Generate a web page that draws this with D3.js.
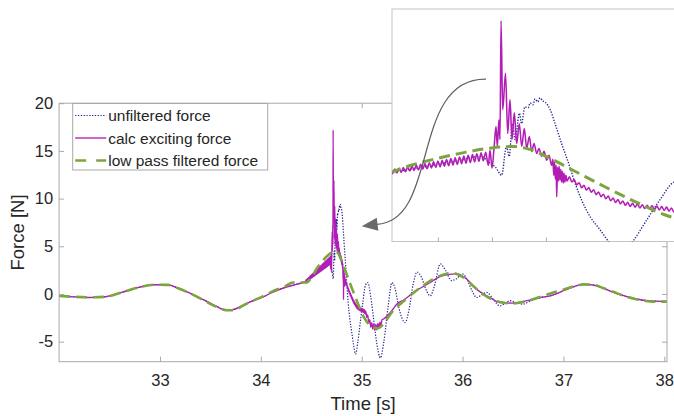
<!DOCTYPE html>
<html>
<head>
<meta charset="utf-8">
<script src="https://cdn.jsdelivr.net/npm/d3@7"></script>
<style>
  html, body { margin: 0; padding: 0; background: #ffffff; }
  svg { display: block; font-family: "Liberation Sans", Arial, Helvetica, sans-serif; }
</style>
</head>
<body>
<svg id="chart" width="674" height="416"></svg>
<script>
// ---- data: [time in s, force in N] ----
const unfilteredForce = [
  [32.0,-0.2],[32.15,-0.3],[32.3,-0.37],[32.45,-0.3],[32.62,0.16],[32.79,0.7],[32.95,0.97],[33.08,0.95],
  [33.18,0.6],[33.28,0.16],[33.37,-0.3],[33.45,-0.7],[33.55,-1.25],[33.66,-1.7],[33.74,-1.6],[33.81,-1.24],
  [33.9,-0.8],[34.01,-0.37],[34.12,0.2],[34.24,0.68],[34.35,1.0],[34.44,1.3],[34.515,1.9],[34.56,2.3],
  [34.6,2.7],[34.64,3.1],[34.68,3.5],[34.6965,2.8],[34.706,2.45],[34.718,1.6],[34.727,4.5],[34.732,3.5],
  [34.738,6.8],[34.743,5.2],[34.751,7.85],[34.755,6.8],[34.761,8.5],[34.767,8.4],[34.771,8.9],[34.776,8.7],
  [34.780,9.3],[34.785,9.0],[34.789,9.4],[34.794,9.1],[34.798,9.0],[34.808,8.2],[34.817,6.8],[34.829,4.8],
  [34.842,2.8],[34.854,0.8],[34.866,-0.9],[34.882,-2.6],[34.900,-3.9],[34.919,-5.3],[34.94,-6.3],[34.962,-5.0],
  [34.987,-2.9],[35.011,-0.9],[35.037,0.9],[35.06,1.2],[35.09,-0.3],[35.12,-2.8],[35.15,-5.2],[35.185,-6.7],
  [35.22,-5.0],[35.26,-1.5],[35.3,1.2],[35.33,0.6],[35.37,-1.5],[35.43,-3.0],[35.47,-1.6],[35.51,1.0],
  [35.55,2.3],[35.59,1.8],[35.64,0.4],[35.68,-0.2],[35.72,0.8],[35.78,3.15],[35.83,2.5],[35.89,1.4],
  [35.94,1.6],[36.0,2.1],[36.05,1.4],[36.1,0.2],[36.14,-0.37],[36.19,-0.1],[36.24,0.16],[36.3,-0.5],
  [36.37,-1.24],[36.42,-1.0],[36.47,-0.7],[36.53,-0.9],[36.6,-1.06],[36.67,-0.75],[36.75,-0.45],[36.87,-0.19],
  [37.0,0.34],[37.1,0.75],[37.2,1.04],[37.33,0.86],[37.5,0.16],[37.66,-0.37],[37.83,-0.7],[38.03,-0.79]
];

const excitingForce = [
  [32.0,-0.2],[32.15,-0.3],[32.3,-0.37],[32.45,-0.3],[32.62,0.16],[32.79,0.7],[32.95,0.97],[33.08,0.95],
  [33.18,0.6],[33.28,0.16],[33.37,-0.3],[33.45,-0.7],[33.55,-1.25],[33.66,-1.7],[33.74,-1.6],[33.81,-1.24],
  [33.9,-0.8],[34.01,-0.37],[34.12,0.2],[34.24,0.68],[34.35,1.0],[34.40,1.15],[34.444,1.32],
  // ripple ahead of the impact
  [34.448,1.47],[34.452,1.26],[34.456,1.55],[34.460,1.32],[34.464,1.63],[34.468,1.39],[34.472,1.72],[34.476,1.45],
  [34.480,1.80],[34.484,1.51],[34.488,1.88],[34.492,1.57],[34.496,1.96],[34.500,1.63],[34.504,2.04],[34.508,1.70],
  [34.512,2.13],[34.516,1.76],[34.520,2.21],[34.524,1.82],[34.528,2.29],[34.532,1.88],[34.536,2.37],[34.540,1.94],
  [34.544,2.45],[34.548,2.01],[34.552,2.54],[34.556,2.07],[34.560,2.62],[34.564,2.13],[34.568,2.70],[34.572,2.19],
  [34.576,2.78],[34.580,2.25],[34.584,2.86],[34.588,2.32],[34.592,2.95],[34.596,2.38],[34.600,3.03],[34.604,2.44],
  [34.608,3.11],[34.612,2.50],[34.616,3.19],[34.620,2.56],[34.624,3.27],[34.628,2.63],[34.632,3.36],[34.636,2.69],
  [34.640,3.44],[34.644,2.75],[34.648,3.52],[34.652,2.81],[34.656,3.60],[34.660,2.87],[34.664,3.68],[34.668,2.94],
  [34.672,3.77],[34.676,3.00],[34.680,3.85],[34.684,3.06],
  // impact
  [34.6885,3.9],[34.6933,2.6],[34.6965,4.1],[34.7002,2.3],[34.7039,4.3],[34.7076,6.5],[34.7100,4.5],[34.7131,7.2],
  [34.7150,5.2],[34.7169,17.2],[34.7200,8.2],[34.7252,11.9],[34.7293,5.8],[34.7335,9.2],[34.7372,5.2],[34.7415,7.9],
  [34.7459,4.8],[34.7507,6.8],[34.7552,4.5],[34.7600,6.3],[34.7644,4.3],[34.7693,5.5],[34.7737,4.0],[34.7780,4.8],
  [34.7829,3.8],[34.7872,4.3],[34.7922,3.5],[34.7965,4.0],[34.8015,3.1],[34.8057,3.6],[34.8107,2.6],
  [34.8130,3.2],[34.8145,1.6],[34.8160,2.9],[34.8175,1.2],[34.8190,2.6],[34.8200,-0.6],[34.8215,2.4],[34.8230,1.0],
  [34.8245,2.5],[34.8260,1.1],[34.8275,2.2],[34.8290,0.9],[34.8305,2.0],[34.8320,0.8],[34.8335,1.8],[34.8350,0.9],
  [34.8370,1.6],[34.8390,1.0],
  // ripple after the impact
  [34.8435,1.43],[34.8480,0.92],[34.8525,1.13],[34.8570,0.62],[34.8615,0.83],[34.8660,0.34],[34.8705,0.58],[34.8750,0.10],
  [34.8795,0.34],[34.8840,-0.13],[34.8885,0.12],[34.8930,-0.35],[34.8975,-0.10],[34.9020,-0.57],[34.9065,-0.32],[34.9110,-0.78],
  [34.9155,-0.52],[34.9200,-0.98],[34.9245,-0.71],[34.9290,-1.15],[34.9335,-0.87],[34.9380,-1.30],[34.9425,-1.01],[34.9470,-1.44],
  [34.9515,-1.14],[34.9560,-1.56],[34.9605,-1.24],[34.9650,-1.64],[34.9695,-1.32],[34.9740,-1.71],[34.9785,-1.38],[34.9830,-1.77],
  [34.9875,-1.43],[34.9920,-1.82],[34.9965,-1.48],[35.0010,-1.86],[35.0055,-1.53],[35.0100,-1.91],[35.0145,-1.57],[35.0190,-1.96],
  [35.0235,-1.63],[35.0280,-2.03],[35.0325,-1.71],[35.0370,-2.12],[35.0415,-1.82],
  [35.05,-2.45],[35.06,-2.2],[35.07,-3.05],[35.08,-2.7],[35.09,-3.5],[35.10,-3.0],[35.11,-3.7],[35.12,-3.15],
  [35.13,-3.8],[35.14,-3.2],[35.15,-3.75],[35.16,-3.1],[35.17,-3.6],[35.18,-2.95],[35.19,-3.35],[35.20,-2.75],
  [35.22,-2.6],[35.25,-2.3],[35.28,-2.0],[35.31,-1.6],[35.35,-1.06],[35.42,-0.6],[35.46,-0.3],[35.51,0.16],
  [35.58,0.6],[35.68,1.2],[35.76,1.75],[35.84,2.0],[35.94,2.1],[36.04,1.57],[36.14,0.5],[36.27,-0.37],
  [36.37,-0.9],[36.5,-0.96],[36.64,-0.7],[36.77,-0.37],[36.87,-0.19],[37.0,0.34],[37.1,0.75],[37.2,1.04],
  [37.33,0.86],[37.5,0.16],[37.66,-0.37],[37.83,-0.7],[38.03,-0.79]
];

const lowPassForce = [
  [32.0,-0.2],[32.15,-0.3],[32.3,-0.35],[32.45,-0.3],[32.62,0.16],[32.79,0.7],[32.95,0.97],[33.08,0.95],
  [33.18,0.6],[33.28,0.16],[33.37,-0.3],[33.45,-0.75],[33.55,-1.3],[33.66,-1.7],[33.74,-1.7],[33.81,-1.3],
  [33.9,-0.8],[34.01,-0.3],[34.12,0.3],[34.24,0.8],[34.32,1.2],[34.4,1.2],[34.45,1.2],[34.5,1.7],
  [34.55,2.6],[34.6,3.3],[34.65,3.9],[34.7,4.35],[34.74,4.5],[34.77,4.2],[34.8,3.5],[34.85,2.1],
  [34.91,0.4],[34.97,-1.2],[35.02,-2.4],[35.1,-3.4],[35.16,-3.6],[35.22,-3.1],[35.3,-1.9],[35.4,-0.9],
  [35.5,0.0],[35.6,0.8],[35.7,1.5],[35.8,2.0],[35.9,2.2],[36.0,1.8],[36.1,0.9],[36.2,0.0],
  [36.3,-0.6],[36.4,-0.9],[36.5,-1.0],[36.6,-0.85],[36.7,-0.55],[36.8,-0.2],[36.9,0.15],[37.0,0.45],
  [37.1,0.8],[37.2,1.0],[37.3,0.95],[37.4,0.6],[37.5,0.2],[37.6,-0.2],[37.7,-0.5],[37.8,-0.7],
  [37.9,-0.8],[38.03,-0.8]
];

const seriesNames = ["unfiltered force", "calc exciting force", "low pass filtered force"];
const timeTicks = [33, 34, 35, 36, 37, 38];
const forceTicks = [-5, 0, 5, 10, 15, 20];
const insetTimeTicks = [34.6, 34.7, 34.8];
const timeDomain = [32, 38.027];
const forceDomain = [-7.1, 20];
const insetTimeDomain = [34.515, 35.0372];
const insetForceDomain = [-5.1, 18.38];

// ---- layout ----
const svg = d3.select("#chart");
const W = 674, H = 416;
const plot = { left: 59.1, right: 667, top: 103.2, bottom: 361.7 };
const inset = { left: 392, right: 690, top: 9, bottom: 241.5 };

const axisGray = "#a9a9a9";
const textColor = "#262626";

const series = [
  { name: seriesNames[0], data: unfilteredForce, color: "#24248f", width: 1.2, dash: "1.3,1.5", legendDash: "1.3,1.5" },
  { name: seriesNames[1], data: excitingForce,   color: "#b21db6", width: 1.35, dash: null, legendDash: null },
  { name: seriesNames[2], data: lowPassForce,    color: "#7ba53f", width: 2.6, dash: "11,6", legendDash: "11,10" }
];

svg.append("rect").attr("width", W).attr("height", H).attr("fill", "#ffffff");

const x = d3.scaleLinear().domain(timeDomain).range([plot.left, plot.right]);
const y = d3.scaleLinear().domain(forceDomain).range([plot.bottom, plot.top]);
const xi = d3.scaleLinear().domain(insetTimeDomain).range([inset.left, 674]);
const yi = d3.scaleLinear().domain(insetForceDomain).range([inset.bottom, inset.top]);

const defs = svg.append("defs");
defs.append("clipPath").attr("id", "clip-main").append("rect")
  .attr("x", plot.left).attr("y", plot.top)
  .attr("width", plot.right - plot.left).attr("height", plot.bottom - plot.top);
defs.append("clipPath").attr("id", "clip-inset").append("rect")
  .attr("x", inset.left).attr("y", inset.top)
  .attr("width", inset.right - inset.left).attr("height", inset.bottom - inset.top);

function drawSeries(g, xs, ys, widthScale) {
  series.forEach(s => {
    const line = d3.line()
      .x(d => xs(d[0]))
      .y(d => ys(d[1]))
      .curve(d3.curveMonotoneX);
    g.append("path")
      .datum(s.data)
      .attr("d", line)
      .attr("fill", "none")
      .attr("stroke", s.color)
      .attr("stroke-width", s.width * widthScale)
      .attr("stroke-linejoin", "round")
      .attr("stroke-dasharray", s.dash);
  });
}

// ---- main axes ----
const mainLines = svg.append("g").attr("clip-path", "url(#clip-main)");
drawSeries(mainLines, x, y, 1);

function styleAxis(g) {
  g.select(".domain").remove();
  g.selectAll(".tick line").attr("stroke", axisGray).attr("stroke-width", 1);
  g.selectAll(".tick text").attr("fill", textColor).attr("font-family", "Liberation Sans, Arial, sans-serif");
}

svg.append("g")
  .attr("transform", `translate(0,${plot.bottom})`)
  .call(d3.axisBottom(x).tickValues(timeTicks).tickSize(-5).tickSizeOuter(0).tickPadding(13).tickFormat(d => String(d)))
  .call(styleAxis)
  .selectAll(".tick text").attr("font-size", 16.5);

svg.append("g")
  .attr("transform", `translate(0,${plot.top})`)
  .call(d3.axisTop(x).tickValues(timeTicks).tickSize(-5).tickSizeOuter(0).tickFormat(""))
  .call(styleAxis);

svg.append("g")
  .attr("transform", `translate(${plot.left},0)`)
  .call(d3.axisLeft(y).tickValues(forceTicks).tickSize(-5).tickSizeOuter(0).tickPadding(6).tickFormat(d => String(d)))
  .call(styleAxis)
  .selectAll(".tick text").attr("font-size", 16.5);

svg.append("g")
  .attr("transform", `translate(${plot.right},0)`)
  .call(d3.axisRight(y).tickValues(forceTicks).tickSize(-5).tickSizeOuter(0).tickFormat(""))
  .call(styleAxis);

svg.append("rect")
  .attr("x", plot.left).attr("y", plot.top)
  .attr("width", plot.right - plot.left).attr("height", plot.bottom - plot.top)
  .attr("fill", "none").attr("stroke", axisGray).attr("stroke-width", 1);

svg.append("text")
  .attr("x", (plot.left + plot.right) / 2).attr("y", 410)
  .attr("text-anchor", "middle").attr("font-size", 18.5).attr("fill", textColor)
  .text("Time [s]");

svg.append("text")
  .attr("transform", `translate(24,${(plot.top + plot.bottom) / 2}) rotate(-90)`)
  .attr("text-anchor", "middle").attr("font-size", 18.5).attr("fill", textColor)
  .text("Force [N]");

// ---- legend ----
const legend = svg.append("g");
const lg = { x: 72.7, y: 103.5, w: 195, h: 66.5 };
legend.append("rect")
  .attr("x", lg.x).attr("y", lg.y).attr("width", lg.w).attr("height", lg.h)
  .attr("fill", "#ffffff").attr("stroke", axisGray).attr("stroke-width", 1);
series.forEach((s, i) => {
  const cy = lg.y + 12 + i * 22.5;
  legend.append("line")
    .attr("x1", lg.x + 2.5).attr("x2", lg.x + 33.5).attr("y1", cy).attr("y2", cy)
    .attr("stroke", s.color).attr("stroke-width", Math.min(s.width, 2.4))
    .attr("stroke-dasharray", s.legendDash);
  legend.append("text")
    .attr("x", lg.x + 35.5).attr("y", cy).attr("dy", "0.36em")
    .attr("font-size", 15.5).attr("fill", textColor)
    .text(s.name);
});

// ---- magnified view of the impact ----
const insetG = svg.append("g");
insetG.append("rect")
  .attr("x", inset.left).attr("y", inset.top)
  .attr("width", inset.right - inset.left).attr("height", inset.bottom - inset.top)
  .attr("fill", "#ffffff").attr("stroke", "#c4c4c4").attr("stroke-width", 1);
const insetLines = insetG.append("g").attr("clip-path", "url(#clip-inset)");
drawSeries(insetLines, xi, yi, 1.15);
insetG.append("g")
  .attr("transform", `translate(0,${inset.bottom})`)
  .call(d3.axisBottom(xi).tickValues(insetTimeTicks).tickSize(-4).tickSizeOuter(0).tickFormat(""))
  .call(styleAxis);

// ---- arrow from the magnified view to the impact ----
const arrowStart = [xi(34.689), yi(11.3)];
const arrowEnd = [x(35.15), y(7.3)];
const tip = [x(35.0), y(7.1)];
const c1 = [arrowStart[0] - 76, arrowStart[1] - 1];
const c2 = [arrowEnd[0] + 63, arrowEnd[1] - 3];
svg.append("path")
  .attr("d", `M${arrowStart[0]},${arrowStart[1]} C${c1[0]},${c1[1]} ${c2[0]},${c2[1]} ${arrowEnd[0]},${arrowEnd[1]}`)
  .attr("fill", "none").attr("stroke", "#5f5f5f").attr("stroke-width", 1.2);
const ang = Math.atan2(tip[1] - arrowEnd[1], tip[0] - arrowEnd[0]);
const headLen = 16, headHalf = 6.5;
const bx = tip[0] - headLen * Math.cos(ang), by = tip[1] - headLen * Math.sin(ang);
svg.append("path")
  .attr("d", `M${tip[0]},${tip[1]} L${bx + headHalf * Math.sin(ang)},${by - headHalf * Math.cos(ang)} L${bx - headHalf * Math.sin(ang)},${by + headHalf * Math.cos(ang)} Z`)
  .attr("fill", "#6a6a6a").attr("stroke", "none");
</script>
</body>
</html>
